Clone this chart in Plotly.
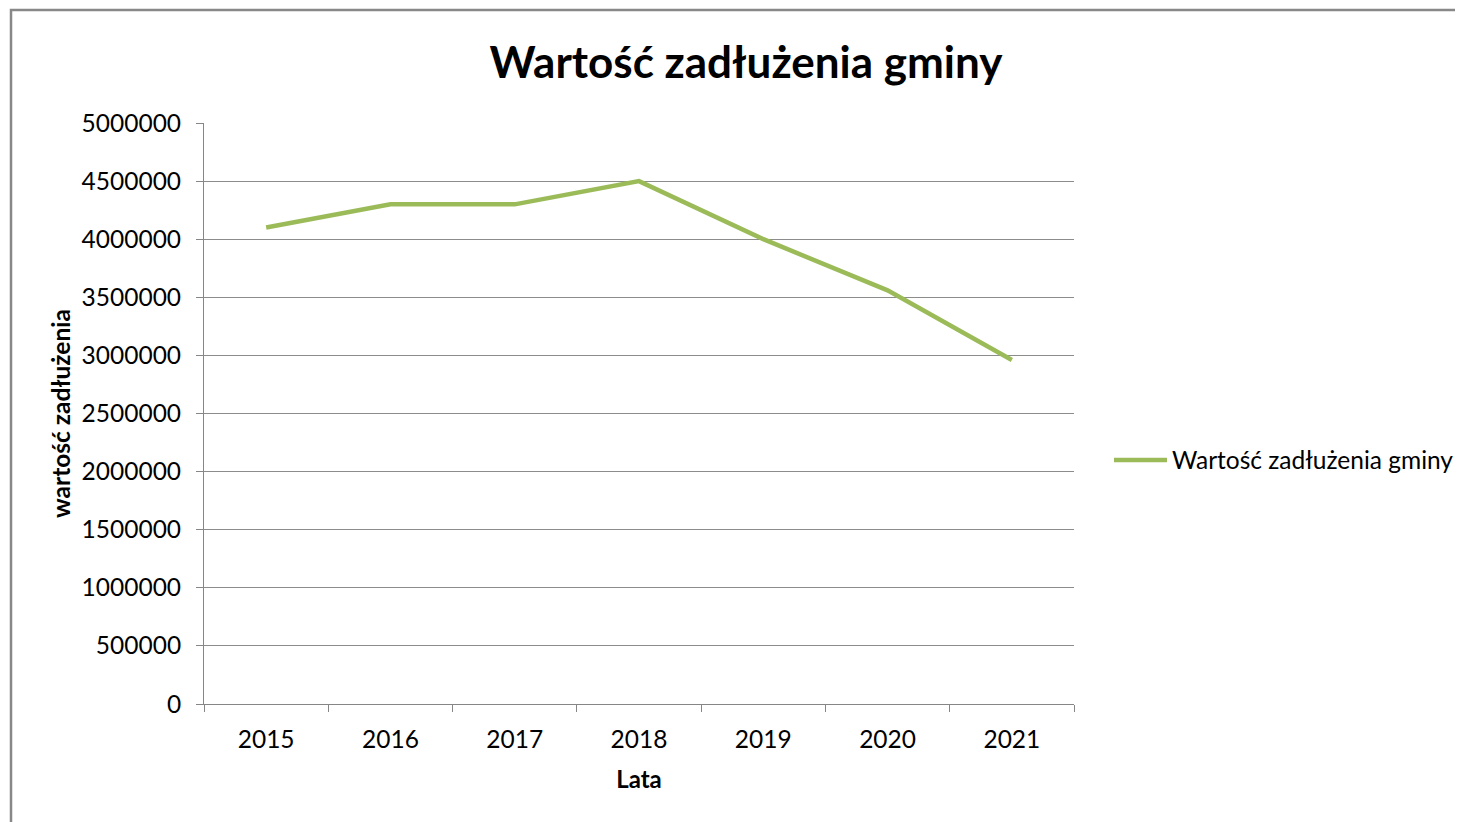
import plotly.graph_objects as go

years = ["2015", "2016", "2017", "2018", "2019", "2020", "2021"]
debt = [4100000, 4300000, 4300000, 4500000, 4000000, 3560000, 2960000]
series_name = "Wartość zadłużenia gminy"

FONT = "Lato"
OFF = 8  # page body margin
W, H = 1463, 822
L, T = 204 - OFF, 123 - OFF
R, B = W - (1074 - OFF), H - (704 - OFF)
pw, ph = W - L - R, H - T - B
x_of = lambda px: (px - OFF - L) / pw
y_of = lambda py: (704 - py) / ph

fig = go.Figure()
fig.add_trace(go.Scatter(
    x=years, y=debt, mode="lines", name=series_name,
    line=dict(color="#9BBB59", width=4.5),
))

fig.update_layout(
    width=W, height=H,
    margin=dict(l=L, r=R, t=T, b=B, autoexpand=False),
    paper_bgcolor="white", plot_bgcolor="white",
    font=dict(family=FONT, color="#000000", size=24.5),
    title=dict(text="<b>Wartość zadłużenia gminy</b>", x=x_of(746), xref="paper",
               xanchor="center", y=1 - 55 / H, yanchor="middle",
               font=dict(family=FONT, size=44, color="#000000")),
    showlegend=True,
    legend=dict(x=x_of(1109), y=y_of(460), xanchor="left", yanchor="middle",
                font=dict(family=FONT, size=24.5, color="#000000"),
                bgcolor="rgba(0,0,0,0)", itemwidth=53),
    xaxis=dict(
        type="category", tickson="boundaries", ticks="outside", ticklen=7,
        range=[-0.5, 6.5], automargin=False,
        tickcolor="#868686", showline=True, linecolor="#868686", linewidth=1,
        showgrid=False, tickfont=dict(size=24.5, color="#000000"),
        ticklabelstandoff=14,
        title=dict(text="<b>Lata</b>", standoff=18, font=dict(size=24)),
    ),
    yaxis=dict(
        range=[0, 5000000], dtick=500000, tickformat="d", automargin=False,
        ticks="outside", ticklen=7, tickcolor="#868686",
        showline=True, linecolor="#868686", linewidth=1,
        showgrid=True, gridcolor="#8C8C8C", gridwidth=1,
        zeroline=False, ticklabelstandoff=10,
        tickfont=dict(size=24.5, color="#000000"),
        title=dict(text="<b>wartość zadłużenia</b>", standoff=4, font=dict(size=24.5)),
    ),
    shapes=[dict(type="rect", xref="paper", yref="paper",
                 x0=x_of(11), x1=x_of(W + 40),
                 y0=y_of(H + 40), y1=y_of(10),
                 line=dict(color="#888888", width=2.5), fillcolor="rgba(0,0,0,0)",
                 layer="below")],
)

fig.write_html("out.html")
